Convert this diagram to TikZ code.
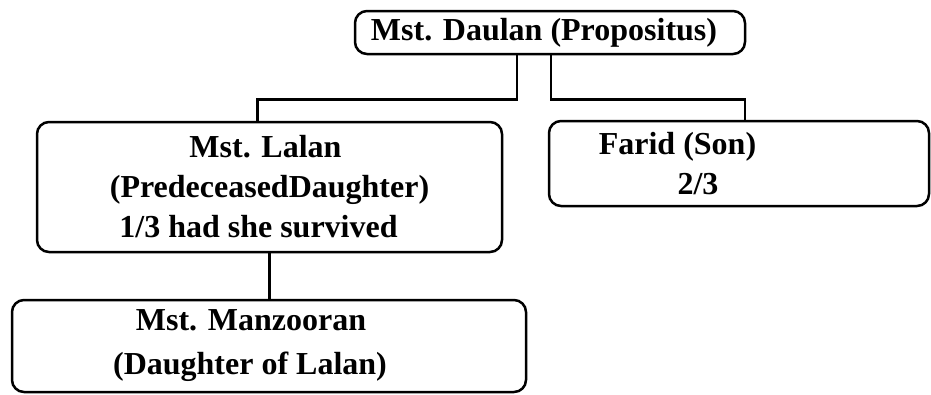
\documentclass[tikz,border=0pt]{standalone}
\usepackage{fontspec}
\setmainfont{Liberation Serif}
\usetikzlibrary{positioning}

\begin{document}
\begin{tikzpicture}[x=1pt,y=-1pt]
  \tikzstyle{person}=[draw,line width=2.5pt,rounded corners=12pt,align=center,
    font=\fontsize{32}{40}\selectfont\bfseries,inner sep=0pt]
  \tikzstyle{link}=[line width=2.5pt]

  \useasboundingbox (0,0) rectangle (931,394);
  \node[person,minimum width=390pt,minimum height=43pt] (daulan) at (550,32.5)
    {Mst. Daulan (Propositus)\hspace*{12pt}}; % Top box
  \node[person,minimum width=465pt,minimum height=130pt] (lalan) at (269.5,187)
    {Mst. Lalan\hspace*{8pt}\\(PredeceasedDaughter)\hspace*{34pt}\\1/3 had she survived\hspace*{22pt}};
  \node[person,minimum width=380pt,minimum height=85pt] (farid) at (739,163.5)
    {Farid (Son)\hspace*{123pt}\\2/3\hspace*{82pt}};
  \node[person,minimum width=514pt,minimum height=92pt] (manzooran) at (269,346)
    {Mst. Manzooran\hspace*{36pt}\\[4pt](Daughter of Lalan)\hspace*{38pt}}; % Bottom box
  \draw[link] ([xshift=-33pt]daulan.south) -- ++(0,44) -| ([xshift=-12pt]lalan.north); % Left branch
  \draw[link] ([xshift=1pt]daulan.south) -- ++(0,44) -| ([xshift=6pt]farid.north); % Right branch
  \draw[link] (lalan.south) -- (lalan.south |- manzooran.north);
\end{tikzpicture}
\end{document}
